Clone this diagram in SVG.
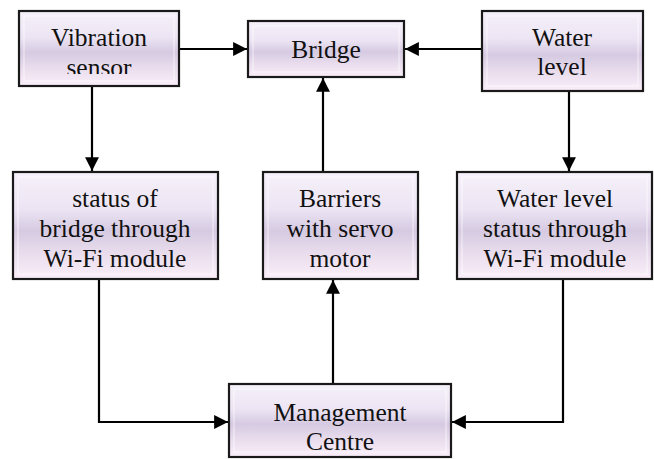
<svg xmlns="http://www.w3.org/2000/svg" width="654" height="459" viewBox="0 0 654 459">
<style>
.box{fill:url(#g);stroke:#1a1a1a;stroke-width:2.2}
.bev{fill:none;stroke:#ffffff;stroke-opacity:0.55;stroke-width:1.2}
.t{font-size:25.5px;fill:#111;text-anchor:middle}
.c{fill:none;stroke:#000;stroke-width:2.2}
</style>
<defs>
<linearGradient id="g" x1="0" y1="0" x2="0" y2="1">
<stop offset="0" stop-color="#f6f1fa"/>
<stop offset="0.35" stop-color="#ece4f3"/>
<stop offset="0.55" stop-color="#d6cae2"/>
<stop offset="0.8" stop-color="#ece0ef"/>
<stop offset="1" stop-color="#fbeefa"/>
</linearGradient>
<marker id="a" viewBox="0 0 10 10" refX="10" refY="5" markerWidth="6.3" markerHeight="6.3" orient="auto" markerUnits="strokeWidth">
<path d="M0,0 L10,5 L0,10 z" fill="#000"/>
</marker>
<clipPath id="cv"><rect x="20" y="12" width="158" height="62"/></clipPath>
<clipPath id="cm"><rect x="230" y="385" width="220" height="70"/></clipPath>
</defs>
<g id="connectors">
<path class="c" d="M179,49 H247" marker-end="url(#a)"/>
<path class="c" d="M482,49 H405" marker-end="url(#a)"/>
<path class="c" d="M92,86 V171" marker-end="url(#a)"/>
<path class="c" d="M323,172 V78" marker-end="url(#a)"/>
<path class="c" d="M569,91 V171" marker-end="url(#a)"/>
<path class="c" d="M99,279 V422 H228" marker-end="url(#a)"/>
<path class="c" d="M563,279 V422 H452" marker-end="url(#a)"/>
<path class="c" d="M333,384 V280" marker-end="url(#a)"/>
</g>
<g id="vibration">
<rect class="box" x="19" y="11" width="160" height="75"/>
<rect class="bev" x="24" y="16" width="150" height="65"/>
<g clip-path="url(#cv)">
<text class="t" font-family="Times New Roman" x="99" y="46">Vibration</text>
<text class="t" font-family="Times New Roman" x="99" y="76">sensor</text>
</g>
</g>
<g id="bridge">
<rect class="box" x="248" y="21" width="156" height="56"/>
<rect class="bev" x="253" y="26" width="146" height="46"/>
<text class="t" font-family="Times New Roman" x="326" y="58">Bridge</text>
</g>
<g id="water">
<rect class="box" x="482" y="11" width="161" height="80"/>
<rect class="bev" x="487" y="16" width="151" height="70"/>
<text class="t" font-family="Times New Roman" x="562" y="46">Water</text>
<text class="t" font-family="Times New Roman" x="562" y="75">level</text>
</g>
<g id="bridgestatus">
<rect class="box" x="13" y="172" width="205" height="107"/>
<rect class="bev" x="18" y="177" width="195" height="97"/>
<text class="t" font-family="Times New Roman" x="115" y="207">status of</text>
<text class="t" font-family="Times New Roman" x="115" y="237">bridge through</text>
<text class="t" font-family="Times New Roman" x="115" y="267">Wi-Fi module</text>
</g>
<g id="barriers">
<rect class="box" x="263" y="172" width="155" height="107"/>
<rect class="bev" x="268" y="177" width="145" height="97"/>
<text class="t" font-family="Times New Roman" x="340" y="207">Barriers</text>
<text class="t" font-family="Times New Roman" x="340" y="237">with servo</text>
<text class="t" font-family="Times New Roman" x="340" y="267">motor</text>
</g>
<g id="waterstatus">
<rect class="box" x="457" y="172" width="195" height="107"/>
<rect class="bev" x="462" y="177" width="185" height="97"/>
<text class="t" font-family="Times New Roman" x="555" y="207">Water level</text>
<text class="t" font-family="Times New Roman" x="555" y="237">status through</text>
<text class="t" font-family="Times New Roman" x="555" y="267">Wi-Fi module</text>
</g>
<g id="management">
<rect class="box" x="229" y="384" width="222" height="73"/>
<rect class="bev" x="234" y="389" width="212" height="63"/>
<g clip-path="url(#cm)">
<text class="t" font-family="Times New Roman" x="340" y="421">Management</text>
<text class="t" font-family="Times New Roman" x="340" y="450">Centre</text>
</g>
</g>
</svg>
